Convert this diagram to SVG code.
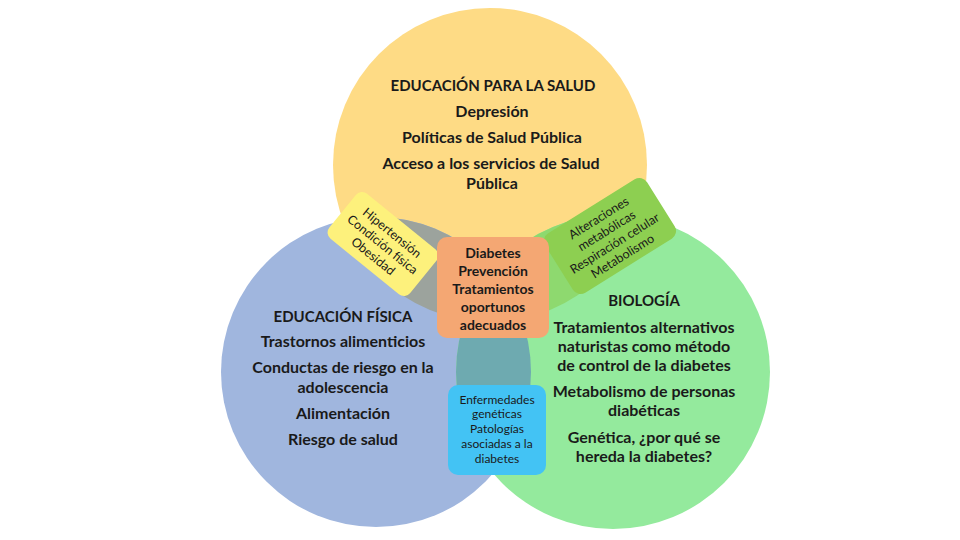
<svg xmlns="http://www.w3.org/2000/svg" width="960" height="540" viewBox="0 0 960 540">
<defs>
<style>
text{font-family:Lato,"Open Sans","Liberation Sans",sans-serif;fill:#1a1a1a;text-anchor:middle}
.m{font-size:16px;font-weight:bold}
.t{font-size:15px;font-weight:bold}
.o{font-size:14px;font-weight:bold}
.s{font-size:12px}
.r{font-size:12.5px}
</style>
<clipPath id="cY"><circle cx="490" cy="165" r="157"/></clipPath>
<clipPath id="cB"><circle cx="376" cy="372" r="155"/></clipPath>
<clipPath id="cG"><circle cx="613" cy="372" r="157"/></clipPath>
</defs>
<rect width="960" height="540" fill="#ffffff"/>
<g id="circle-salud"><circle cx="490" cy="165" r="157" fill="#fedb85"/></g>
<g id="circle-fisica"><circle cx="376" cy="372" r="155" fill="#a0b6de"/></g>
<g id="circle-biologia"><circle cx="613" cy="372" r="157" fill="#94ea9d"/></g>
<g id="overlaps">
<g clip-path="url(#cY)"><circle cx="376" cy="372" r="155" fill="#9ca39d"/></g>
<g clip-path="url(#cG)"><circle cx="376" cy="372" r="155" fill="#6eaab0"/></g>
<g clip-path="url(#cY)"><circle cx="613" cy="372" r="157" fill="#8ed96f"/></g>
</g>
<g id="text-salud">
<text class="t" x="493" y="91">EDUCACIÓN PARA LA SALUD</text>
<text class="m" x="492" y="117">Depresión</text>
<text class="m" x="492" y="143">Políticas de Salud Pública</text>
<text class="m" x="491" y="169">Acceso a los servicios de Salud</text>
<text class="m" x="492" y="189">Pública</text>
</g>
<g id="text-fisica">
<text class="t" x="343" y="322">EDUCACIÓN FÍSICA</text>
<text class="m" x="343" y="347">Trastornos alimenticios</text>
<text class="m" x="343" y="373">Conductas de riesgo en la</text>
<text class="m" x="343" y="393">adolescencia</text>
<text class="m" x="343" y="419">Alimentación</text>
<text class="m" x="343" y="445">Riesgo de salud</text>
</g>
<g id="text-biologia">
<text class="t" x="644" y="306">BIOLOGÍA</text>
<text class="m" x="644" y="333">Tratamientos alternativos</text>
<text class="m" x="644" y="352">naturistas como método</text>
<text class="m" x="644" y="371">de control de la diabetes</text>
<text class="m" x="644" y="397">Metabolismo de personas</text>
<text class="m" x="644" y="416">diabéticas</text>
<text class="m" x="644" y="443">Genética, ¿por qué se</text>
<text class="m" x="644" y="462">hereda la diabetes?</text>
</g>
<g id="box-salud-fisica" transform="translate(383,244) rotate(39)">
<rect x="-52" y="-29" width="104" height="58" rx="8" fill="#fdf17c"/>
<text class="r" x="0" y="-10">Hipertensión</text>
<text class="r" x="0" y="5">Condición física</text>
<text class="r" x="0" y="20">Obesidad</text>
</g>
<g id="box-salud-biologia" transform="translate(610,236) rotate(-32)">
<rect x="-60" y="-35" width="120" height="70" rx="9" fill="#8dcf51"/>
<text class="r" x="0" y="-17">Alteraciones</text>
<text class="r" x="0" y="-2">metabólicas</text>
<text class="r" x="0" y="13">Respiración celular</text>
<text class="r" x="0" y="28">Metabolismo</text>
</g>
<g id="box-centro">
<rect x="437" y="237" width="112" height="101" rx="10" fill="#f4a773"/>
<text class="o" x="493" y="258">Diabetes</text>
<text class="o" x="493" y="276">Prevención</text>
<text class="o" x="493" y="294">Tratamientos</text>
<text class="o" x="493" y="312">oportunos</text>
<text class="o" x="493" y="330">adecuados</text>
</g>
<g id="box-fisica-biologia">
<rect x="448" y="385" width="98" height="90" rx="10" fill="#43c3f4"/>
<text class="s" x="497" y="404">Enfermedades</text>
<text class="s" x="497" y="418">genéticas</text>
<text class="s" x="497" y="433">Patologías</text>
<text class="s" x="497" y="448">asociadas a la</text>
<text class="s" x="497" y="463">diabetes</text>
</g>
</svg>
